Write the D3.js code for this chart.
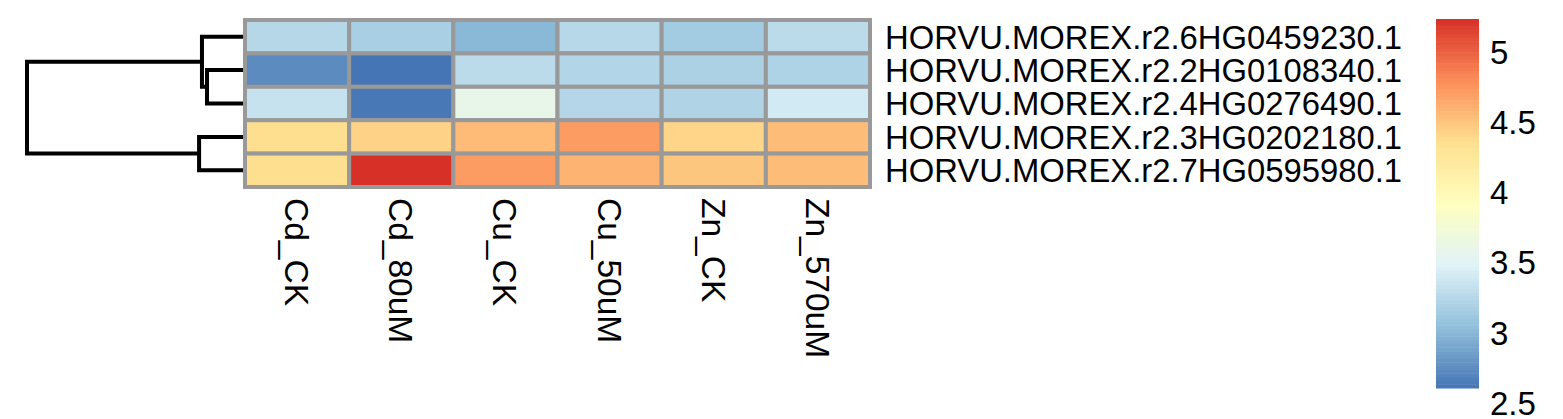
<!DOCTYPE html>
<html><head><meta charset="utf-8">
<script src="https://cdn.jsdelivr.net/npm/d3@7"></script>
<style>body{margin:0;background:#fff} text{font-family:"Liberation Sans",Arial,sans-serif;fill:#000}</style>
</head><body><svg id="c" width="1563" height="419"></svg>
<script>
const rowLabels = ["HORVU.MOREX.r2.6HG0459230.1","HORVU.MOREX.r2.2HG0108340.1","HORVU.MOREX.r2.4HG0276490.1","HORVU.MOREX.r2.3HG0202180.1","HORVU.MOREX.r2.7HG0595980.1"];
const colLabels = ["Cd_CK","Cd_80uM","Cu_CK","Cu_50uM","Zn_CK","Zn_570uM"];
const row1 = [3.25, 3.18, 3.01, 3.26, 3.15, 3.28];
const row2 = [2.74, 2.61, 3.28, 3.23, 3.20, 3.21];
const row3 = [3.34, 2.63, 3.60, 3.24, 3.22, 3.41];
const row4 = [4.37, 4.43, 4.56, 4.73, 4.42, 4.55];
const row5 = [4.37, 5.24, 4.73, 4.60, 4.50, 4.55];
const values = [row1,row2,row3,row4,row5];
const paletteColors = ["#4575B4","#91BFDB","#E0F3F8","#FFFFBF","#FEE090","#FC8D59","#D73027"];
const legendTicks = [2.5,3,3.5,4,4.5,5];
// hclust-style merges: negative = leaf (1-based), positive = earlier merge
const merges = [[-2,-3],[-1,1],[-4,-5],[2,3]];
const mergeHeights = [0.50,0.57,0.61,3.0];

const svg = d3.select("#c");
const vMin = d3.min(values.flat()), vMax = d3.max(values.flat());
const color = d3.scaleLinear()
  .domain(paletteColors.map((c,i)=>vMin + i*(vMax-vMin)/(paletteColors.length-1)))
  .range(paletteColors).interpolate(d3.interpolateRgb);

const x = d3.scaleBand().domain(colLabels).range([245,870]);
const y = d3.scaleBand().domain(rowLabels).range([20,187]);

// cells
const cells = [];
values.forEach((r,i)=>r.forEach((v,j)=>cells.push({r:rowLabels[i],c:colLabels[j],v})));
svg.append("g").selectAll("rect").data(cells).join("rect")
  .attr("x",d=>x(d.c)).attr("y",d=>y(d.r))
  .attr("width",x.bandwidth()).attr("height",y.bandwidth())
  .attr("fill",d=>color(d.v)).attr("stroke","#999999").attr("stroke-width",4);

// row labels
svg.append("g").selectAll("text").data(rowLabels).join("text")
  .attr("x",885).attr("y",d=>y(d)+y.bandwidth()/2).attr("dy","0.36em")
  .style("font-size","32.8px").text(d=>d);

// col labels
svg.append("g").selectAll("text").data(colLabels).join("text")
  .attr("transform",d=>`translate(${x(d)+x.bandwidth()/2},198) rotate(90)`)
  .attr("dy","0.36em").style("font-size","33.5px").text(d=>d);

// dendrogram
const hx = d3.scaleLinear().domain([0, d3.max(mergeHeights)]).range([243,27]);
const nodes = [];
function pos(k){
  if(k<0){ const l=rowLabels[-k-1]; return {x:hx(0), y:y(l)+y.bandwidth()/2}; }
  return nodes[k-1];
}
const dpaths=[];
merges.forEach((m,i)=>{
  const a=pos(m[0]), b=pos(m[1]);
  const mx=hx(mergeHeights[i]);
  nodes.push({x:mx,y:(a.y+b.y)/2});
  dpaths.push(`M${a.x},${a.y}H${mx}V${b.y}H${b.x}`);
});
svg.append("g").selectAll("path").data(dpaths).join("path")
  .attr("d",d=>d).attr("fill","none").attr("stroke","#000").attr("stroke-width",4);

// legend
const ly = d3.scaleLinear().domain([vMin,vMax]).range([388,19]);
const nBins = 100;
const bins = d3.range(nBins).map(i=>vMin + i*(vMax-vMin)/nBins);
const step = (vMax-vMin)/nBins;
svg.append("g").selectAll("rect").data(bins).join("rect")
  .attr("x",1436).attr("width",43)
  .attr("y",d=>ly(d+step)).attr("height",d=>ly(d)-ly(d+step)+0.5)
  .attr("fill",d=>color(d+step/2));
svg.append("g").selectAll("text").data(legendTicks).join("text")
  .attr("x",1490).attr("y",d=>ly(d)).attr("dy","0.34em")
  .style("font-size","33px").text(d=>d);
</script></body></html>
